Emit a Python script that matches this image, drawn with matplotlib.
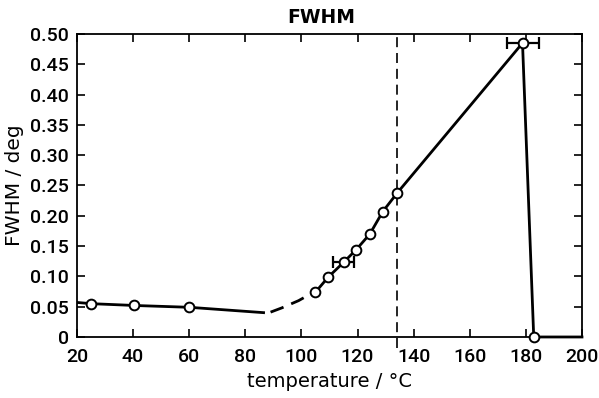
import matplotlib
matplotlib.use("Agg")
import matplotlib.pyplot as plt
import numpy as np

# measured points
temp_pts = [25, 40.5, 60, 105, 109.6, 115, 119.5, 124.4, 129, 134.2, 178.8, 182.8]
fwhm_pts = [0.055, 0.052, 0.049, 0.074, 0.099, 0.123, 0.144, 0.170, 0.207, 0.238, 0.485, 0.0]

# guide curve pieces
low_temp = [20, 25, 40.5, 60, 87]
low_fwhm = [0.057, 0.055, 0.052, 0.049, 0.040]
dash_temp = [89, 93, 99, 104]
dash_fwhm = [0.041, 0.048, 0.060, 0.073]
high_temp = [105, 109.6, 115, 119.5, 124.4, 129, 134.2, 178.8, 182.8, 200]
high_fwhm = [0.074, 0.099, 0.123, 0.144, 0.170, 0.207, 0.238, 0.485, 0.0, 0.0]

# horizontal error bars
err_temp = [115, 178.8]
err_fwhm = [0.123, 0.485]
err_x = [3.9, 5.7]

t_c = 134.0

x_ticks = [20, 40, 60, 80, 100, 120, 140, 160, 180, 200]
y_ticks = [0, 0.05, 0.10, 0.15, 0.20, 0.25, 0.30, 0.35, 0.40, 0.45, 0.50]
y_labels = ["0", "0.05", "0.10", "0.15", "0.20", "0.25", "0.30", "0.35", "0.40", "0.45", "0.50"]

tick_font = ["Roboto", "DejaVu Sans"]
label_font = ["DejaVu Sans"]

plt.rcParams["font.family"] = label_font
fig = plt.figure(figsize=(5.99, 3.98), dpi=100)
ax = fig.add_axes([0.1285, 0.1533, 0.9716 - 0.1285, 0.9146 - 0.1533])

ax.plot(low_temp, low_fwhm, color="black", lw=2.0, solid_capstyle="butt")
ax.plot(dash_temp, dash_fwhm, color="black", lw=2.0, dashes=(5, 3))
ax.plot(high_temp, high_fwhm, color="black", lw=2.0, clip_on=False)

ax.errorbar(err_temp, err_fwhm, xerr=err_x, fmt="none", ecolor="black",
            elinewidth=1.6, capsize=4, capthick=1.6, zorder=3)
ax.plot(temp_pts, fwhm_pts, "o", ms=7, mfc="white", mec="black", mew=1.4,
        zorder=4, clip_on=False)

ax.axvline(t_c, ymin=-0.035, ymax=1.0, color="black", lw=1.2, dashes=(6, 3.5),
           clip_on=False)

ax.set_xlim(20, 200)
ax.set_ylim(0, 0.5)
ax.set_xticks(x_ticks)
ax.set_yticks(y_ticks)
ax.set_yticklabels(y_labels)
ax.tick_params(direction="in", length=6, width=1.2, top=True, right=True,
               labelsize=14)
ax.tick_params(axis="x", pad=8)
ax.tick_params(axis="y", pad=6)
for lab in ax.get_xticklabels() + ax.get_yticklabels():
    lab.set_family(tick_font)
    lab.set_weight("medium")
for s in ax.spines.values():
    s.set_linewidth(1.3)

ax.set_xlabel("temperature / °C", fontsize=14, labelpad=4)
ax.set_ylabel("FWHM / deg", fontsize=14.5, labelpad=4)
ax.set_title("FWHM", fontsize=13.5, fontweight="bold", pad=8, x=0.484)

fig.savefig("out.png", dpi=100)
